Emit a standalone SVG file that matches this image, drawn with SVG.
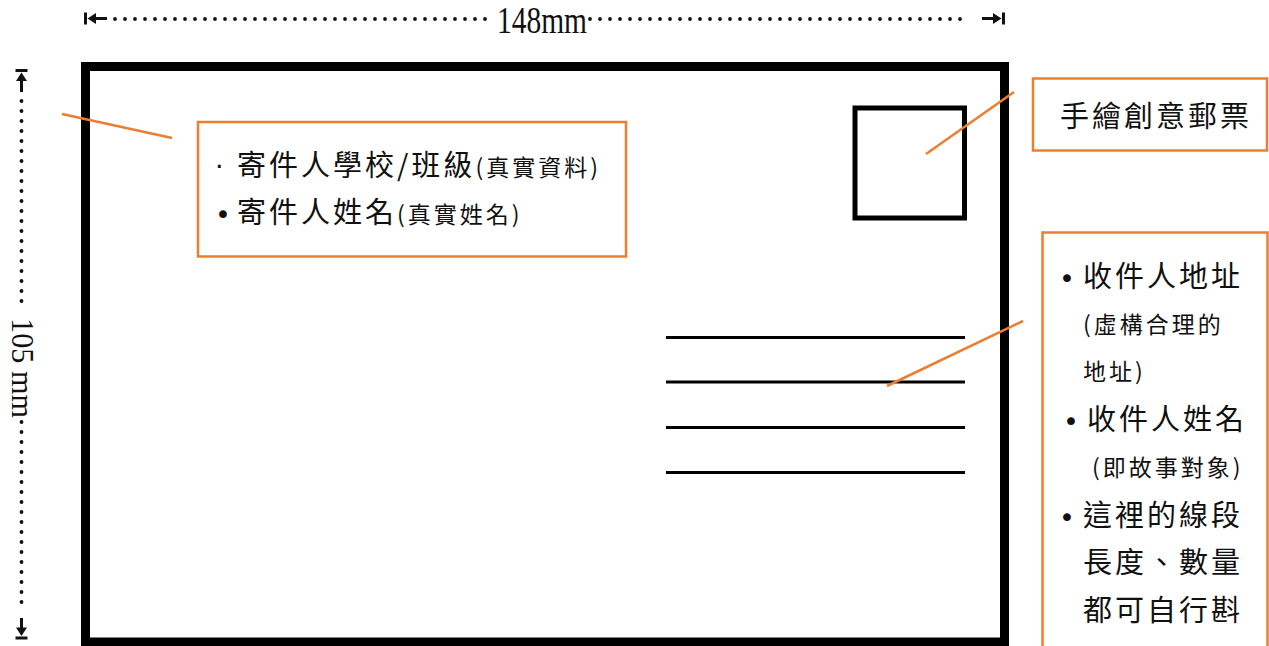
<svg xmlns="http://www.w3.org/2000/svg" width="1269" height="646" viewBox="0 0 1269 646">
<style>
.note{fill:#fff;stroke:#ED7D31;stroke-width:2.5}
.lead{stroke:#ED7D31;stroke-width:2.5;fill:none}
.big{font-family:"Noto Sans CJK TC","Noto Sans CJK SC",sans-serif;font-size:29px;letter-spacing:3px;fill:#111}
.small{font-family:"Noto Sans CJK TC","Noto Sans CJK SC",sans-serif;font-size:23px;letter-spacing:3px;fill:#111}
.bul{font-family:"DejaVu Sans",sans-serif;font-size:27px;fill:#111}
.dots{stroke:#111;stroke-width:3.8;stroke-linecap:round;stroke-dasharray:0 10;fill:none}
.dim{font-family:"Liberation Serif",serif;fill:#111}
.ink{fill:#111}
</style>
<rect width="1269" height="646" fill="#fff"/>

<g id="card">
  <rect x="85.5" y="66.5" width="919" height="575.5" fill="#fff" stroke="#000" stroke-width="9"/>
</g>

<g id="stamp">
  <rect x="855" y="108" width="109.5" height="110" fill="none" stroke="#000" stroke-width="5"/>
</g>

<g id="address-lines" stroke="#000" stroke-width="3">
  <line x1="666" y1="337.5" x2="965" y2="337.5"/>
  <line x1="666" y1="382" x2="965" y2="382"/>
  <line x1="666" y1="427.5" x2="965" y2="427.5"/>
  <line x1="666" y1="472.5" x2="965" y2="472.5"/>
</g>

<g id="dim-width">
  <rect class="ink" x="84" y="12.5" width="3" height="12"/>
  <polygon class="ink" points="87.5,18.5 96,13 96,24"/>
  <line x1="95" y1="18.5" x2="107" y2="18.5" stroke="#111" stroke-width="3"/>
  <line class="dots" x1="115" y1="19" x2="486" y2="19"/>
  <text class="dim" x="497" y="33" font-size="37" textLength="90" lengthAdjust="spacingAndGlyphs">148mm</text>
  <line class="dots" x1="590" y1="19" x2="964" y2="19"/>
  <line x1="982" y1="18.5" x2="994" y2="18.5" stroke="#111" stroke-width="3"/>
  <polygon class="ink" points="1001.5,18.5 993,13 993,24"/>
  <rect class="ink" x="1002" y="12.5" width="3" height="12"/>
</g>

<g id="dim-height">
  <rect class="ink" x="15.5" y="69" width="12" height="3"/>
  <polygon class="ink" points="21.5,72.5 16,81 27,81"/>
  <line x1="21.5" y1="80" x2="21.5" y2="92" stroke="#111" stroke-width="3"/>
  <line class="dots" x1="21.5" y1="101" x2="21.5" y2="311"/>
  <text class="dim" transform="translate(12,318) rotate(90)" x="0" y="0" font-size="32" textLength="100" lengthAdjust="spacingAndGlyphs">105 mm</text>
  <line class="dots" x1="21.5" y1="422" x2="21.5" y2="608"/>
  <line x1="21.5" y1="618" x2="21.5" y2="629" stroke="#111" stroke-width="3"/>
  <polygon class="ink" points="21.5,636 16,627.5 27,627.5"/>
  <rect class="ink" x="15.5" y="636.5" width="12" height="3"/>
</g>

<g id="connectors">
  <line class="lead" x1="62" y1="114" x2="172" y2="138"/>
  <line class="lead" x1="926" y1="154" x2="1014" y2="92"/>
  <line class="lead" x1="887" y1="386" x2="1023" y2="321"/>
</g>

<g id="note-sender">
  <rect class="note" x="198" y="122" width="428" height="134.5"/>
  <text class="bul" x="215" y="176" font-size="30">·</text>
  <text x="237" y="176"><tspan class="big">寄件人學校/班級</tspan><tspan class="small">(真實資料)</tspan></text>
  <text class="bul" x="215" y="224">•</text>
  <text x="237" y="223"><tspan class="big">寄件人姓名</tspan><tspan class="small">(真實姓名)</tspan></text>
</g>

<g id="note-stamp">
  <rect class="note" x="1033" y="78.5" width="234" height="72"/>
  <text class="big" x="1060" y="127">手繪創意郵票</text>
</g>

<g id="note-address">
  <rect class="note" x="1042.5" y="232.5" width="225" height="430"/>
  <text class="bul" x="1059" y="288">•</text>
  <text class="big" x="1083" y="287">收件人地址</text>
  <text class="small" x="1083" y="333">(虛構合理的</text>
  <text class="small" x="1083" y="380">地址)</text>
  <text class="bul" x="1063" y="430.5">•</text>
  <text class="big" x="1087" y="429.5">收件人姓名</text>
  <text class="small" x="1092" y="476">(即故事對象)</text>
  <text class="bul" x="1059" y="527">•</text>
  <text class="big" x="1083" y="526">這裡的線段</text>
  <text class="big" x="1083" y="573">長度、數量</text>
  <text class="big" x="1083" y="621">都可自行斟</text>
</g>
</svg>
